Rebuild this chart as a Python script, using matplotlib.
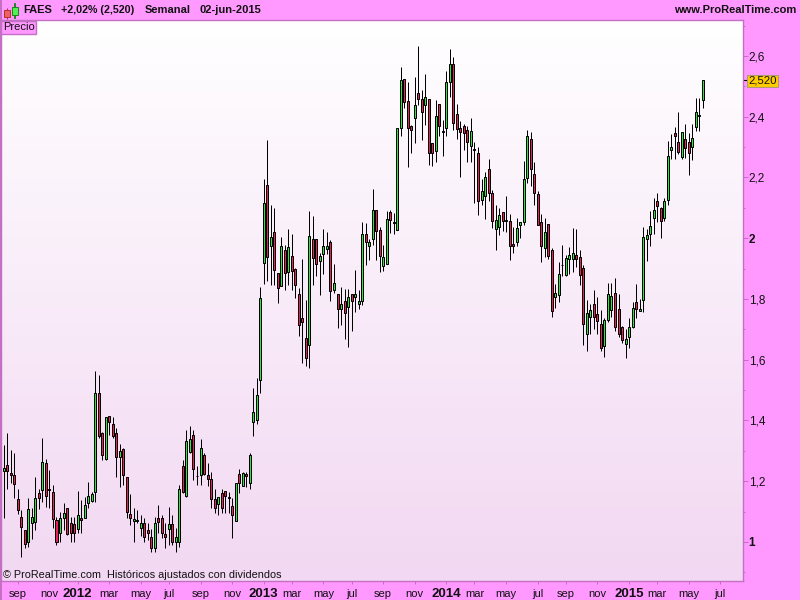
import numpy as np
import pandas as pd
import matplotlib
matplotlib.use('Agg')
import matplotlib.pyplot as plt
from matplotlib.patches import Rectangle
plt.rcParams['font.family'] = ['Liberation Sans', 'DejaVu Sans']

# weekly candles
opens = [1.235,1.252,1.226,1.219,1.140,1.081,1.038,0.999,1.061,1.065,
         1.160,1.172,1.259,1.173,1.163,1.074,1.028,1.078,1.111,1.063,
         1.058,1.043,1.078,1.080,1.129,1.135,1.163,1.489,1.358,1.273,
         1.414,1.390,1.358,1.281,1.305,1.213,1.091,1.068,1.071,1.045,
         1.061,1.038,1.018,0.981,1.078,1.078,1.025,1.042,1.058,0.999,
         1.001,1.249,1.150,1.297,1.353,1.218,1.219,1.285,1.219,1.209,
         1.140,1.124,1.160,1.167,1.147,1.117,1.068,1.223,1.186,1.223,
         1.193,1.394,1.400,1.533,1.917,2.175,1.975,2.019,1.886,1.844,
         1.960,1.890,1.943,1.899,1.818,1.736,1.670,1.647,1.996,1.999,
         1.924,1.949,1.965,1.989,1.830,1.815,1.768,1.795,1.775,1.818,
         1.805,1.782,1.794,2.013,1.976,1.999,2.092,2.026,1.910,1.914,
         2.085,2.052,2.026,2.364,2.524,2.451,2.368,2.397,2.477,2.458,
         2.438,2.458,2.313,2.286,2.441,2.352,2.364,2.514,2.573,2.408,
         2.362,2.369,2.356,2.305,2.293,2.280,2.127,2.138,2.227,2.148,
         2.032,2.036,2.085,2.059,2.056,1.980,1.986,2.042,2.053,2.197,
         2.326,2.211,2.145,2.053,1.967,2.046,1.960,1.808,1.814,1.913,
         1.880,1.933,1.933,1.944,1.937,1.901,1.686,1.742,1.783,1.750,
         1.717,1.644,1.732,1.765,1.819,1.766,1.707,1.651,1.676,1.707,
         1.789,1.759,1.798,1.997,2.015,2.066,2.122,2.099,2.066,2.127,
         2.290,2.346,2.316,2.269,2.326,2.316,2.299,2.365,2.405,2.454]
highs = [1.319,1.358,1.303,1.292,1.173,1.105,1.039,1.144,1.111,1.215,
         1.176,1.341,1.272,1.237,1.187,1.083,1.100,1.127,1.111,1.083,
         1.083,1.168,1.138,1.149,1.198,1.166,1.563,1.550,1.363,1.412,
         1.415,1.412,1.374,1.322,1.308,1.213,1.157,1.111,1.105,1.089,
         1.078,1.061,1.043,1.083,1.122,1.089,1.061,1.114,1.089,1.045,
         1.187,1.270,1.369,1.382,1.369,1.250,1.338,1.292,1.259,1.231,
         1.176,1.149,1.176,1.168,1.166,1.144,1.193,1.239,1.231,1.231,
         1.292,1.506,1.539,1.838,2.194,2.323,2.109,2.101,1.887,2.003,
         1.977,2.030,2.014,1.901,1.835,1.933,1.796,2.089,2.073,1.999,
         1.950,2.030,2.019,1.994,1.914,1.818,1.838,1.833,1.833,1.818,
         1.895,1.829,2.055,2.051,1.999,2.161,2.092,2.038,1.977,2.089,
         2.093,2.082,2.362,2.563,2.524,2.514,2.373,2.532,2.633,2.488,
         2.540,2.458,2.313,2.455,2.441,2.390,2.549,2.623,2.596,2.441,
         2.386,2.376,2.370,2.395,2.316,2.300,2.195,2.217,2.261,2.159,
         2.110,2.101,2.086,2.139,2.080,2.038,2.066,2.055,2.255,2.357,
         2.349,2.250,2.154,2.080,2.066,2.046,1.967,1.849,1.923,1.978,
         1.945,1.970,2.033,2.031,1.961,1.912,1.797,1.784,1.830,1.806,
         1.764,1.736,1.852,1.852,1.868,1.817,1.711,1.701,1.736,1.789,
         1.849,1.800,2.038,2.029,2.090,2.132,2.148,2.102,2.132,2.320,
         2.342,2.365,2.415,2.349,2.375,2.346,2.375,2.461,2.461,2.522]
lows = [1.078,1.176,1.193,1.144,1.092,0.952,0.981,0.984,1.010,1.039,
        1.108,1.133,1.116,1.111,1.045,0.990,1.001,1.039,1.023,1.001,
        1.001,1.028,1.031,1.080,1.111,1.133,1.133,1.344,1.270,1.270,
        1.352,1.344,1.215,1.180,1.187,1.078,1.056,1.001,1.061,1.020,
        1.001,1.006,0.968,0.968,1.028,1.012,0.979,0.990,0.990,0.968,
        0.984,1.160,1.149,1.294,1.204,1.187,1.187,1.220,1.184,1.111,
        1.094,1.089,1.094,1.094,1.094,1.014,1.068,1.160,1.184,1.182,
        1.176,1.350,1.390,1.489,1.848,1.860,1.846,1.846,1.788,1.844,
        1.829,1.846,1.829,1.804,1.678,1.590,1.579,1.574,1.846,1.876,
        1.813,1.882,1.948,1.793,1.820,1.705,1.714,1.668,1.643,1.694,
        1.758,1.766,1.780,1.912,1.928,1.977,1.928,1.890,1.892,1.914,
        2.018,2.014,2.026,2.335,2.428,2.236,2.280,2.313,2.439,2.324,
        2.373,2.241,2.239,2.252,2.335,2.272,2.338,2.466,2.355,2.328,
        2.203,2.289,2.252,2.252,2.115,2.075,2.110,2.064,2.121,2.033,
        1.962,2.011,2.024,2.022,1.929,1.953,1.973,2.000,2.044,2.183,
        2.173,2.108,2.042,1.923,1.937,1.932,1.742,1.772,1.790,1.877,
        1.877,1.882,1.890,1.904,1.846,1.649,1.629,1.685,1.701,1.685,
        1.629,1.610,1.723,1.742,1.695,1.676,1.654,1.607,1.640,1.706,
        1.739,1.759,1.758,1.926,1.976,2.015,2.055,2.001,2.058,2.111,
        2.260,2.260,2.277,2.260,2.265,2.209,2.256,2.354,2.354,2.430]
closes = [1.242,1.235,1.219,1.192,1.106,1.050,0.992,1.107,1.081,1.144,
          1.146,1.262,1.153,1.170,1.077,1.001,1.078,1.097,1.025,1.028,
          1.031,1.088,1.074,1.121,1.150,1.158,1.489,1.349,1.288,1.410,
          1.394,1.349,1.281,1.298,1.221,1.100,1.080,1.077,1.069,1.061,
          1.018,1.031,0.979,1.061,1.067,1.028,1.018,1.058,1.001,1.015,
          1.176,1.166,1.334,1.340,1.239,1.216,1.311,1.223,1.208,1.142,
          1.113,1.147,1.113,1.152,1.145,1.088,1.193,1.193,1.226,1.216,
          1.285,1.427,1.483,1.802,2.115,1.939,2.003,1.894,1.835,1.973,
          1.884,1.970,1.891,1.847,1.713,1.723,1.606,2.006,1.936,1.914,
          1.940,1.973,1.973,1.827,1.854,1.768,1.782,1.755,1.808,1.794,
          1.815,1.795,2.013,1.986,1.989,2.092,2.025,1.942,1.937,2.065,
          2.061,2.051,2.362,2.520,2.450,2.362,2.355,2.438,2.460,2.414,
          2.464,2.280,2.280,2.402,2.368,2.349,2.514,2.573,2.379,2.361,
          2.351,2.346,2.316,2.352,2.290,2.124,2.154,2.201,2.148,2.058,
          2.059,2.076,2.056,2.056,1.976,1.976,2.033,2.053,2.194,2.336,
          2.229,2.150,2.043,1.976,2.020,1.942,1.762,1.819,1.881,1.911,
          1.934,1.944,1.950,1.933,1.880,1.717,1.753,1.763,1.742,1.729,
          1.640,1.730,1.815,1.809,1.709,1.686,1.666,1.667,1.707,1.769,
          1.768,1.766,2.005,2.010,2.039,2.092,2.107,2.058,2.122,2.270,
          2.299,2.336,2.285,2.349,2.298,2.280,2.329,2.415,2.401,2.520]

y_ticks = [1.0, 1.2, 1.4, 1.6, 1.8, 2.0, 2.2, 2.4, 2.6]
y_labels = ['1', '1,2', '1,4', '1,6', '1,8', '2', '2,2', '2,4', '2,6']
y_minor = [0.9, 1.1, 1.3, 1.5, 1.7, 1.9, 2.1, 2.3, 2.5, 2.7]
month_names = {1: '', 3: 'mar', 5: 'may', 7: 'jul', 9: 'sep', 11: 'nov'}
last_close = 2.520

PINK = '#ff99ff'
EDGE = '#c46fc4'
GREEN = '#22ee33'
RED = '#e6215a'

fig = plt.figure(figsize=(8, 6), dpi=100, facecolor=PINK)
ax = fig.add_axes([1/800, 19/600, 742/800, 561/600])

# white to pale pink background
grad = np.linspace(0, 1, 256).reshape(-1, 1, 1)
top_col = np.array([1.0, 1.0, 1.0]).reshape(1, 1, 3)
bot_col = np.array([0xf2, 0xd8, 0xf2]).reshape(1, 1, 3) / 255
ax.imshow(top_col * (1 - grad) + bot_col * grad, extent=[0, 1, 0, 1], transform=ax.transAxes,
          aspect='auto', zorder=0)

x = np.arange(len(closes))
o = np.array(opens)
c = np.array(closes)
colors = [GREEN if up else RED for up in c >= o]
ax.vlines(x, lows, highs, color='black', linewidth=0.72, zorder=2)
ax.bar(x, np.abs(c - o), bottom=np.minimum(o, c), width=0.57, color=colors,
       edgecolor='black', linewidth=0.72, zorder=3)

ax.set_xlim(-0.8, 210.44)
ax.set_ylim(0.8716, 2.7185)

# a tick at the first week of every odd month, future weeks included
dates = pd.date_range(end='2015-07-13', periods=len(closes) + 6, freq='7D')
tick_pos = []
tick_lab = []
for i in range(1, len(dates)):
    if dates[i].month != dates[i - 1].month and dates[i].month % 2 == 1:
        tick_pos.append(i)
        tick_lab.append(str(dates[i].year) if dates[i].month == 1 else month_names[dates[i].month])
ax.set_xticks(tick_pos)
ax.set_xticklabels(tick_lab, fontsize=8, color='#111111', va='center')
for lab in ax.get_xticklabels():
    if lab.get_text().isdigit():
        lab.set_fontweight('bold')
        lab.set_fontsize(9.5)
ax.tick_params(axis='x', length=2.2, width=0.7, color=EDGE, pad=7)

ax.yaxis.tick_right()
ax.set_yticks(y_ticks)
ax.set_yticklabels(y_labels, fontsize=8.5, color='#111111')
for lab in ax.get_yticklabels():
    if ',' not in lab.get_text():
        lab.set_fontweight('bold')
ax.set_yticks(y_minor, minor=True)
ax.tick_params(axis='y', which='major', length=3.5, width=0.7, color=EDGE, pad=0.5)
ax.tick_params(axis='y', which='minor', length=1.7, width=0.7, color=EDGE)

for side in ax.spines:
    ax.spines[side].set_color(EDGE)
    ax.spines[side].set_linewidth(1)

# last price flag
ax.plot([1, 1.006], [last_close, last_close], transform=ax.get_yaxis_transform(), clip_on=False,
        color='black', linewidth=0.8)
ax.annotate(f'{last_close:.3f}'.replace('.', ','), xy=(1, last_close),
            xycoords=('axes fraction', 'data'), xytext=(3.8, -0.5), textcoords='offset points',
            fontsize=8.2, color='#111111', va='center', ha='left', annotation_clip=False,
            bbox=dict(boxstyle='square,pad=0.1', facecolor='#ffcc00', edgecolor='#b09a70', linewidth=0.8))

# header
def px_text(px, py, s, **kw):
    fig.text(px / 800, 1 - py / 600, s, va='center', **kw)

px_text(23, 10, 'FAES', fontsize=8, fontweight='bold', color='#111111')
px_text(61, 10, '+2,02% (2,520)', fontsize=7.7, fontweight='bold', color='#111111')
px_text(145, 10, 'Semanal', fontsize=8, fontweight='bold', color='#111111')
px_text(199, 10, '02-jun-2015', fontsize=8, fontweight='bold', color='#111111')
px_text(796, 10, 'www.ProRealTime.com', fontsize=8, fontweight='bold', color='#111111', ha='right')
px_text(3, 27, 'Precio', fontsize=8, color='#111111', zorder=6)
px_text(3, 575, '© ProRealTime.com  Históricos ajustados con dividendos', fontsize=7.8, color='#111111', zorder=6)

def px_rect(px, py, w, h, **kw):
    fig.add_artist(Rectangle((px / 800, 1 - (py + h) / 600), w / 800, h / 600,
                             transform=fig.transFigure, **kw))

# header icon and Precio tag
px_rect(6.5, 8, 0.01, 11, edgecolor='#b03030', linewidth=0.7, facecolor='none')
px_rect(3.5, 10.5, 6, 6, edgecolor='#b03030', linewidth=0.7, facecolor='#f06060')
px_rect(14.5, 3, 0.01, 15, edgecolor='#208020', linewidth=0.7, facecolor='none')
px_rect(11.5, 7, 6, 8, edgecolor='#208020', linewidth=0.7, facecolor='#50f050')
px_rect(0.5, 20.5, 35.5, 13.5, edgecolor=EDGE, linewidth=1, facecolor=PINK, zorder=5)
# left edge of the window
px_rect(0, 0, 1.5, 600, edgecolor='none', facecolor=EDGE, zorder=5)

plt.savefig('out.png', dpi=100, facecolor=fig.get_facecolor())
plt.close()
